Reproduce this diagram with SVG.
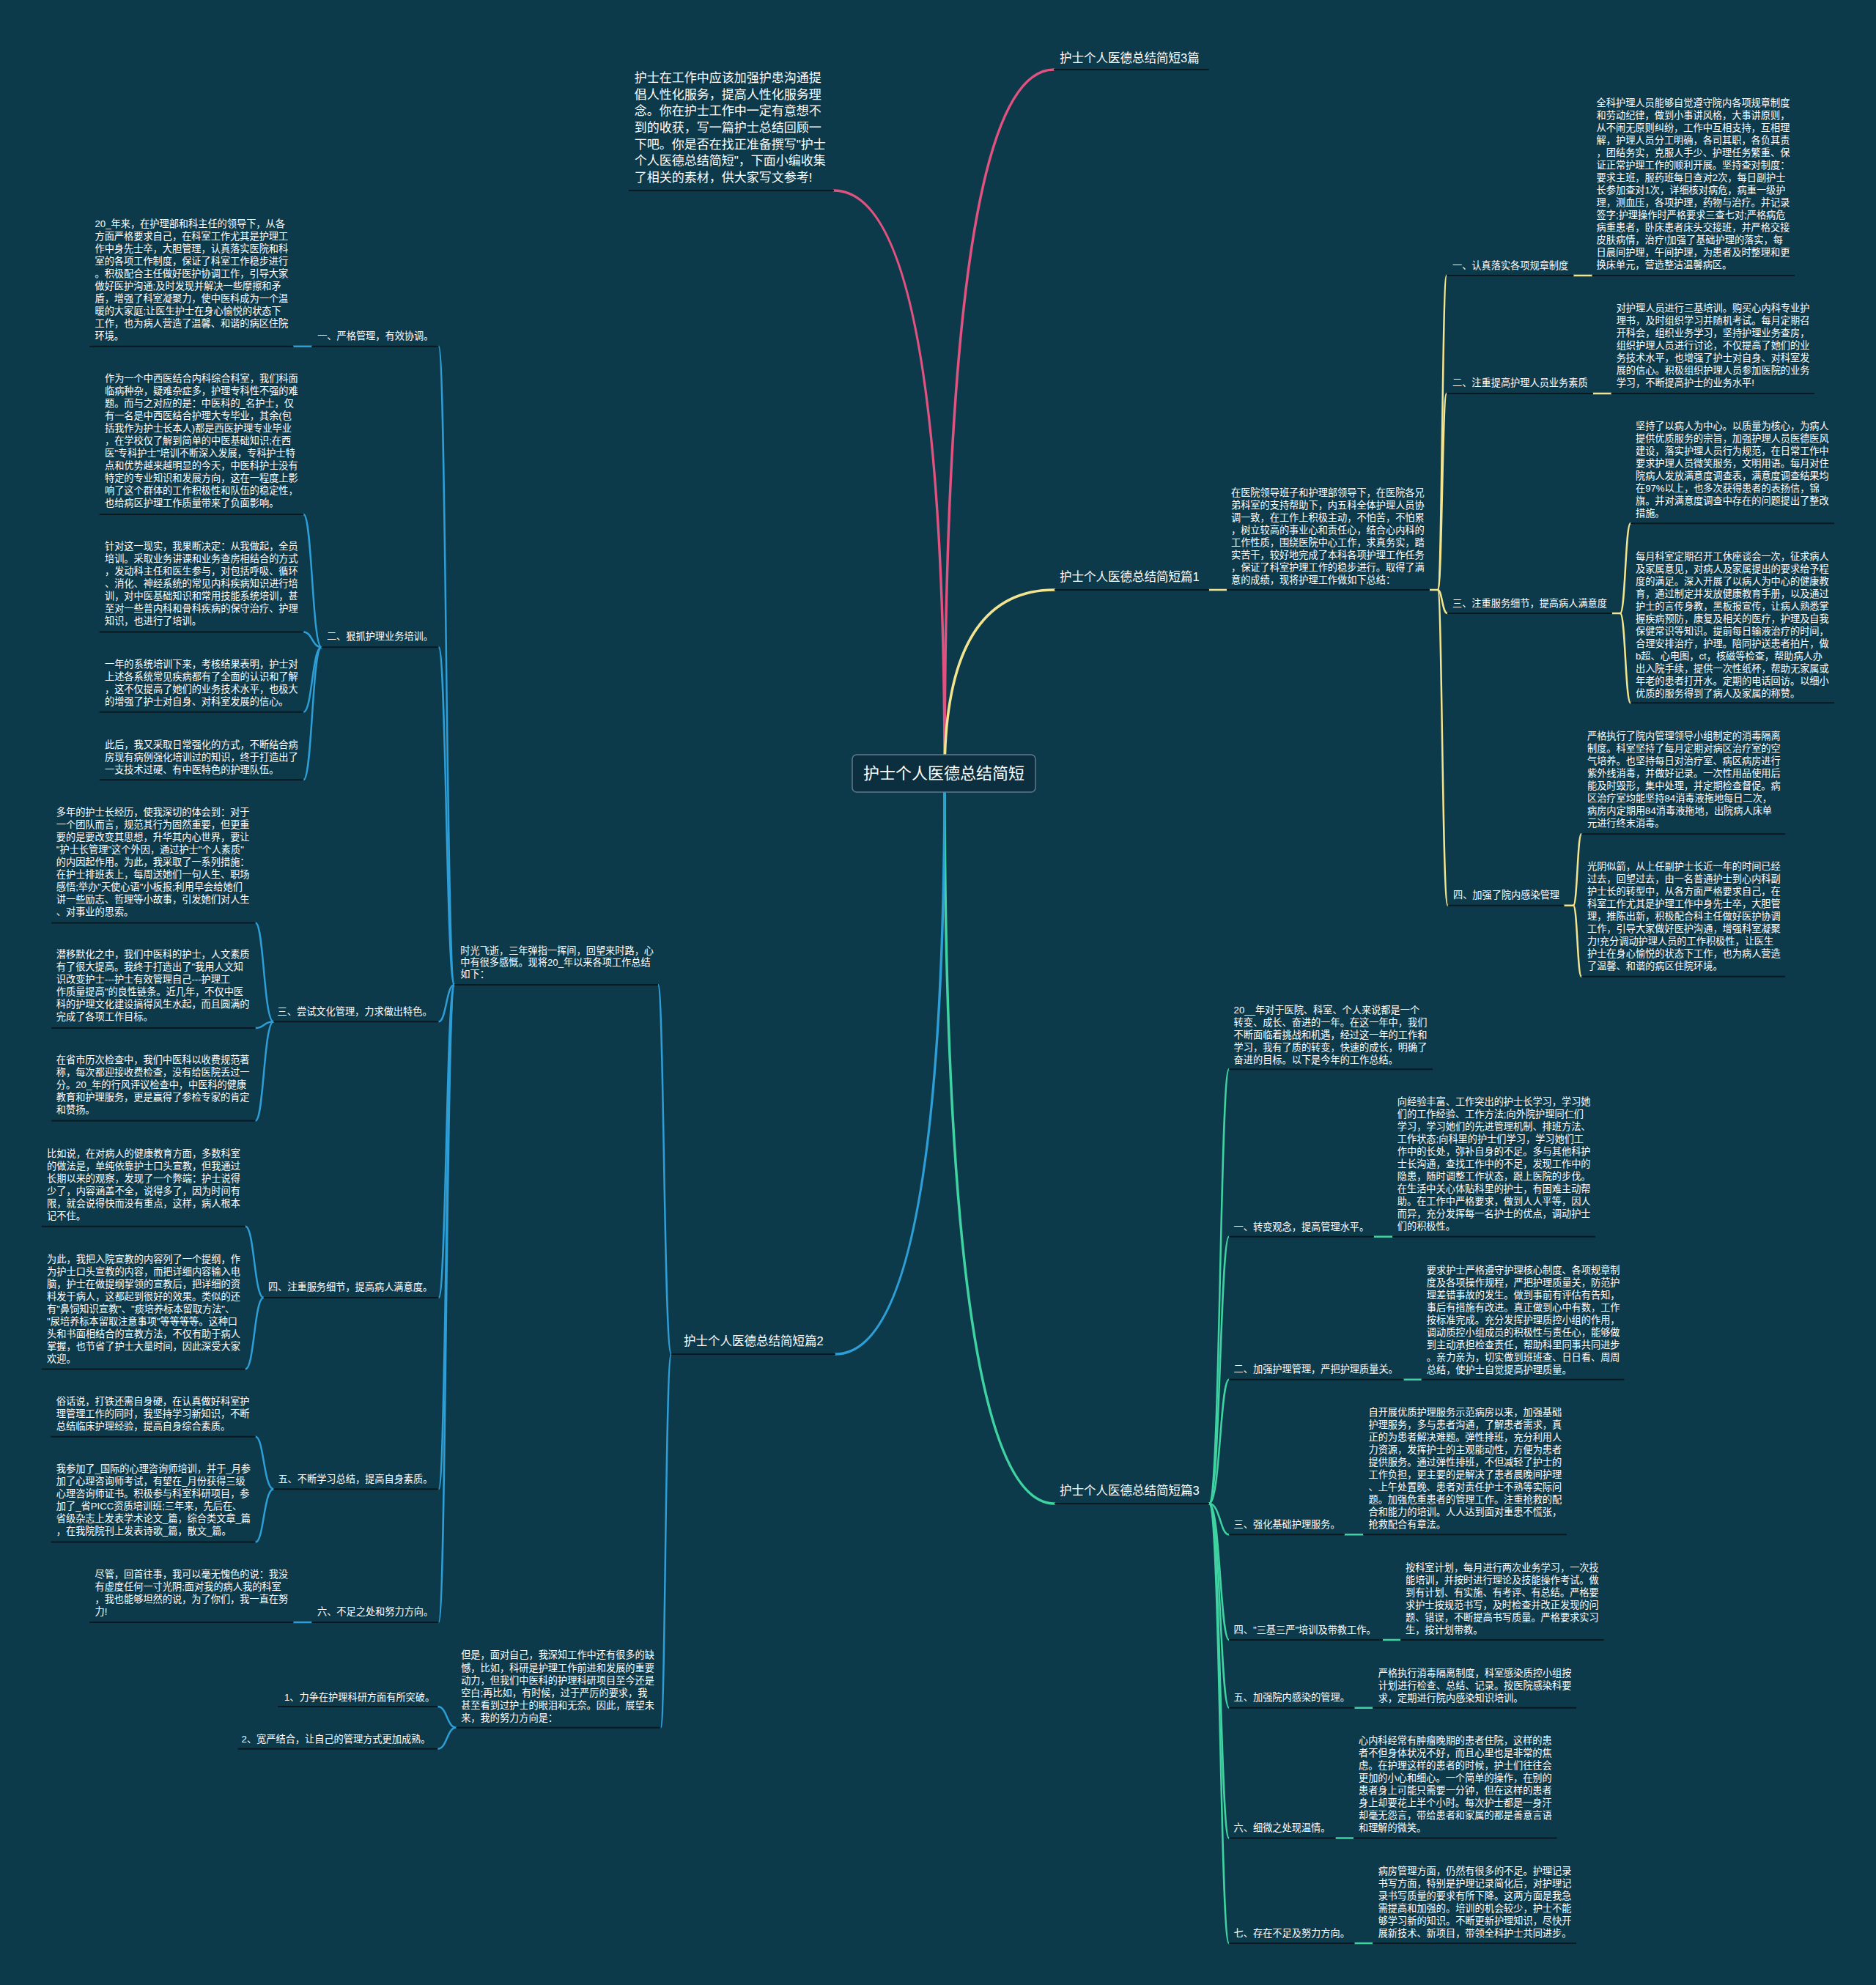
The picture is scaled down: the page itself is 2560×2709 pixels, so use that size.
<svg xmlns="http://www.w3.org/2000/svg" width="2560" height="2709" viewBox="0 0 2560 2709">
<style>
.t{font-family:"Liberation Sans","Noto Sans CJK SC",sans-serif;font-size:13.2px;fill:#ffffff}
.mt{font-family:"Liberation Sans","Noto Sans CJK SC",sans-serif;font-size:16.5px;fill:#ffffff}
.it{font-family:"Liberation Sans","Noto Sans CJK SC",sans-serif;font-size:17px;fill:#ffffff}
.ct{font-family:"Liberation Sans","Noto Sans CJK SC",sans-serif;font-size:22px;fill:#ffffff}
.u{stroke:#0a1820;stroke-width:2;fill:none}
.c{fill:none;stroke-width:2.5;stroke-linecap:round}
.m{fill:none;stroke-width:3.5;stroke-linecap:round}
.p{stroke:#e0527f}.y{stroke:#f3e48f}.g{stroke:#3fd3a2}.b{stroke:#2d9ed6}
</style>
<rect x="0" y="0" width="2560" height="2709" fill="#0d3a4b"/>

<g id="connectors">
<path class="m p" d="M1289 1056 Q1289 260 1138 260"/>
<path class="m p" d="M1289 1056 Q1289 95 1438 95"/>
<path class="m y" d="M1289 1056 Q1289 805 1439 805"/>
<path class="m g" d="M1289 1056 Q1289 2052 1439 2052"/>
<path class="m b" d="M1289 1056 Q1289 1848 1140 1848"/>
<!-- yellow -->
<path class="c y" d="M1650 805 L1674 805 M1951 805 L1962 805"/>
<path class="c y" d="M1962 805 C1968 805 1968 376 1974 376"/>
<path class="c y" d="M1962 805 C1968 805 1968 537 1974 537"/>
<path class="c y" d="M1962 805 C1968 805 1968 837 1975 837"/>
<path class="c y" d="M1962 805 C1968 805 1968 1235.7 1975.7 1235.7"/>
<path class="c y" d="M2147.5 376 L2172.5 376 M2174 537 L2198.6 537 M2200 837 L2211 837 M2134.6 1235.7 L2147 1235.7"/>
<path class="c y" d="M2211 837 C2218 837 2218 714.3 2225 714.3"/>
<path class="c y" d="M2211 837 C2218 837 2218 959.3 2225 959.3"/>
<path class="c y" d="M2147 1235.7 C2152.5 1235.7 2152.5 1138.3 2158 1138.3"/>
<path class="c y" d="M2147 1235.7 C2152.5 1235.7 2152.5 1332.7 2158 1332.7"/>
<!-- green -->
<path class="c g" d="M1650 2052 C1665 2052 1665 1459.3 1677 1459.3"/>
<path class="c g" d="M1650 2052 C1665 2052 1665 1687.7 1677 1687.7"/>
<path class="c g" d="M1650 2052 C1665 2052 1665 1882.7 1677 1882.7"/>
<path class="c g" d="M1650 2052 C1665 2052 1665 2094.3 1677 2094.3"/>
<path class="c g" d="M1650 2052 C1665 2052 1665 2237.9 1677 2237.9"/>
<path class="c g" d="M1650 2052 C1665 2052 1665 2330.7 1677 2330.7"/>
<path class="c g" d="M1650 2052 C1665 2052 1665 2508.6 1677 2508.6"/>
<path class="c g" d="M1650 2052 C1665 2052 1665 2652 1677 2652"/>
<path class="c g" d="M1875 1687.7 L1900 1687.7 M1915.7 1882.7 L1939.6 1882.7 M1835 2094.3 L1860 2094.3 M1887 2237.9 L1911 2237.9 M1848.6 2330.7 L1873 2330.7 M1822.9 2508.6 L1846.8 2508.6 M1848.6 2652 L1873 2652"/>
<!-- blue -->
<path class="c b" d="M916 1848 C906 1848 906 1344 898 1344"/>
<path class="c b" d="M916 1848 C908 1848 908 2357.7 901.7 2357.7"/>
<path class="c b" d="M620 1344 C609 1344 609 472.8 598.6 472.8"/>
<path class="c b" d="M620 1344 C609 1344 609 883.2 598.6 883.2"/>
<path class="c b" d="M620 1344 C609 1344 609 1394.3 598.6 1394.3"/>
<path class="c b" d="M620 1344 C609 1344 609 1771 598.6 1771"/>
<path class="c b" d="M620 1344 C609 1344 609 2032.2 598.6 2032.2"/>
<path class="c b" d="M620 1344 C609 1344 609 2213.9 598.6 2213.9"/>
<path class="c b" d="M400.5 472.8 L425.2 472.8 M400.5 2213.9 L425.2 2213.9"/>
<path class="c b" d="M438.6 883.2 C426 883.2 426 702 414.3 702"/>
<path class="c b" d="M438.6 883.2 C426 883.2 426 862.5 414.3 862.5"/>
<path class="c b" d="M438.6 883.2 C426 883.2 426 971.7 414.3 971.7"/>
<path class="c b" d="M438.6 883.2 C426 883.2 426 1064.3 414.3 1064.3"/>
<path class="c b" d="M373.2 1394.3 C360 1394.3 360 1259.6 348.8 1259.6"/>
<path class="c b" d="M373.2 1394.3 C360 1394.3 360 1403.1 348.8 1403.1"/>
<path class="c b" d="M373.2 1394.3 C360 1394.3 360 1529.4 348.8 1529.4"/>
<path class="c b" d="M359.7 1771 C347 1771 347 1673.8 335 1673.8"/>
<path class="c b" d="M359.7 1771 C347 1771 347 1868.4 335 1868.4"/>
<path class="c b" d="M373.2 2032.2 C360 2032.2 360 1960.8 348.8 1960.8"/>
<path class="c b" d="M373.2 2032.2 C360 2032.2 360 2104.6 348.8 2104.6"/>
<path class="c b" d="M622.3 2357.7 C610 2357.7 610 2329 597.5 2329"/>
<path class="c b" d="M622.3 2357.7 C610 2357.7 610 2386.7 597.5 2386.7"/>
</g>

<g id="center">
<rect x="1163" y="1030" width="250" height="51" rx="6" fill="#0b2f3e" stroke="#5f7b8a" stroke-width="1.5"/>
<text class="ct" x="1288" y="1063" text-anchor="middle">护士个人医德总结简短</text>
</g>

<g id="intro">
<text class="it" x="865.7" y="112"><tspan x="865.7">护士在工作中应该加强护患沟通提</tspan><tspan x="865.7" dy="22.67">倡人性化服务，提高人性化服务理</tspan><tspan x="865.7" dy="22.67">念。你在护士工作中一定有意想不</tspan><tspan x="865.7" dy="22.67">到的收获，写一篇护士总结回顾一</tspan><tspan x="865.7" dy="22.67">下吧。你是否在找正准备撰写"护士</tspan><tspan x="865.7" dy="22.67">个人医德总结简短"，下面小编收集</tspan><tspan x="865.7" dy="22.67">了相关的素材，供大家写文参考!</tspan></text>
<line class="u" x1="858" y1="260" x2="1138" y2="260"/>
</g>

<g id="branch-3pian">
<text class="mt" x="1446" y="85">护士个人医德总结简短3篇</text>
<line class="u" x1="1438" y1="95" x2="1650" y2="95"/>
</g>

<g id="branch-pian1">
<text class="mt" x="1446" y="793">护士个人医德总结简短篇1</text>
<line class="u" x1="1439" y1="805" x2="1650" y2="805"/>
</g>
<g id="p1-intro">
<text class="t" x="1680" y="676.7"><tspan x="1680">在医院领导班子和护理部领导下，在医院各兄</tspan><tspan x="1680" dy="17">弟科室的支持帮助下，内五科全体护理人员协</tspan><tspan x="1680" dy="17">调一致，在工作上积极主动，不怕苦，不怕累</tspan><tspan x="1680" dy="17">，树立较高的事业心和责任心，结合心内科的</tspan><tspan x="1680" dy="17">工作性质，围绕医院中心工作，求真务实，踏</tspan><tspan x="1680" dy="17">实苦干，较好地完成了本科各项护理工作任务</tspan><tspan x="1680" dy="17">，保证了科室护理工作的稳步进行。取得了满</tspan><tspan x="1680" dy="17">意的成绩，现将护理工作做如下总结：</tspan></text>
<line class="u" x1="1674" y1="805" x2="1951" y2="805"/>
</g>
<g id="p1-1">
<text class="t" x="1982" y="366.7">一、认真落实各项规章制度</text>
<line class="u" x1="1974" y1="376" x2="2147.5" y2="376"/>
</g>
<g id="p1-1a">
<text class="t" x="2178.6" y="145.3"><tspan x="2178.6">全科护理人员能够自觉遵守院内各项规章制度</tspan><tspan x="2178.6" dy="17">和劳动纪律，做到小事讲风格，大事讲原则，</tspan><tspan x="2178.6" dy="17">从不闹无原则纠纷，工作中互相支持，互相理</tspan><tspan x="2178.6" dy="17">解，护理人员分工明确，各司其职，各负其责</tspan><tspan x="2178.6" dy="17">，团结务实，克服人手少、护理任务繁重、保</tspan><tspan x="2178.6" dy="17">证正常护理工作的顺利开展。坚持查对制度：</tspan><tspan x="2178.6" dy="17">要求主班，服药班每日查对2次，每日副护士</tspan><tspan x="2178.6" dy="17">长参加查对1次，详细核对病危，病重一级护</tspan><tspan x="2178.6" dy="17">理，测血压，各项护理，药物与治疗。并记录</tspan><tspan x="2178.6" dy="17">签字;护理操作时严格要求三查七对;严格病危</tspan><tspan x="2178.6" dy="17">病重患者，卧床患者床头交接班，并严格交接</tspan><tspan x="2178.6" dy="17">皮肤病情，治疗!加强了基础护理的落实，每</tspan><tspan x="2178.6" dy="17">日晨间护理，午间护理，为患者及时整理和更</tspan><tspan x="2178.6" dy="17">换床单元，营造整洁温馨病区。</tspan></text>
<line class="u" x1="2172.5" y1="376" x2="2449" y2="376"/>
</g>
<g id="p1-2">
<text class="t" x="1982" y="527">二、注重提高护理人员业务素质</text>
<line class="u" x1="1974" y1="537" x2="2174" y2="537"/>
</g>
<g id="p1-2a">
<text class="t" x="2205.7" y="424.7"><tspan x="2205.7">对护理人员进行三基培训。购买心内科专业护</tspan><tspan x="2205.7" dy="17">理书，及时组织学习并随机考试。每月定期召</tspan><tspan x="2205.7" dy="17">开科会，组织业务学习，坚持护理业务查房，</tspan><tspan x="2205.7" dy="17">组织护理人员进行讨论，不仅提高了她们的业</tspan><tspan x="2205.7" dy="17">务技术水平，也增强了护士对自身、对科室发</tspan><tspan x="2205.7" dy="17">展的信心。积极组织护理人员参加医院的业务</tspan><tspan x="2205.7" dy="17">学习，不断提高护士的业务水平!</tspan></text>
<line class="u" x1="2198.6" y1="537" x2="2476" y2="537"/>
</g>
<g id="p1-3">
<text class="t" x="1982" y="828">三、注重服务细节，提高病人满意度</text>
<line class="u" x1="1975" y1="837" x2="2200" y2="837"/>
</g>
<g id="p1-3a">
<text class="t" x="2232" y="586"><tspan x="2232">坚持了以病人为中心。以质量为核心，为病人</tspan><tspan x="2232" dy="17">提供优质服务的宗旨，加强护理人员医德医风</tspan><tspan x="2232" dy="17">建设，落实护理人员行为规范，在日常工作中</tspan><tspan x="2232" dy="17">要求护理人员微笑服务，文明用语。每月对住</tspan><tspan x="2232" dy="17">院病人发放满意度调查表，满意度调查结果均</tspan><tspan x="2232" dy="17">在97%以上，也多次获得患者的表扬信，锦</tspan><tspan x="2232" dy="17">旗。并对满意度调查中存在的问题提出了整改</tspan><tspan x="2232" dy="17">措施。</tspan></text>
<line class="u" x1="2225" y1="714.3" x2="2503" y2="714.3"/>
</g>
<g id="p1-3b">
<text class="t" x="2232" y="764"><tspan x="2232">每月科室定期召开工休座谈会一次，征求病人</tspan><tspan x="2232" dy="17">及家属意见，对病人及家属提出的要求给予程</tspan><tspan x="2232" dy="17">度的满足。深入开展了以病人为中心的健康教</tspan><tspan x="2232" dy="17">育，通过制定并发放健康教育手册，以及通过</tspan><tspan x="2232" dy="17">护士的言传身教，黑板报宣传，让病人熟悉掌</tspan><tspan x="2232" dy="17">握疾病预防，康复及相关的医疗，护理及自我</tspan><tspan x="2232" dy="17">保健常识等知识。提前每日输液治疗的时间，</tspan><tspan x="2232" dy="17">合理安排治疗，护理。陪同护送患者拍片，做</tspan><tspan x="2232" dy="17">b超、心电图，ct，核磁等检查，帮助病人办</tspan><tspan x="2232" dy="17">出入院手续，提供一次性纸杯，帮助无家属或</tspan><tspan x="2232" dy="17">年老的患者打开水。定期的电话回访。以细小</tspan><tspan x="2232" dy="17">优质的服务得到了病人及家属的称赞。</tspan></text>
<line class="u" x1="2225" y1="959.3" x2="2503" y2="959.3"/>
</g>
<g id="p1-4">
<text class="t" x="1983" y="1226">四、加强了院内感染管理</text>
<line class="u" x1="1975.7" y1="1235.7" x2="2134.6" y2="1235.7"/>
</g>
<g id="p1-4a">
<text class="t" x="2166" y="1009.3"><tspan x="2166">严格执行了院内管理领导小组制定的消毒隔离</tspan><tspan x="2166" dy="17">制度。科室坚持了每月定期对病区治疗室的空</tspan><tspan x="2166" dy="17">气培养。也坚持每日对治疗室、病区病房进行</tspan><tspan x="2166" dy="17">紫外线消毒，并做好记录。一次性用品使用后</tspan><tspan x="2166" dy="17">能及时毁形，集中处理，并定期检查督促。病</tspan><tspan x="2166" dy="17">区治疗室均能坚持84消毒液拖地每日二次，</tspan><tspan x="2166" dy="17">病房内定期用84消毒液拖地，出院病人床单</tspan><tspan x="2166" dy="17">元进行终末消毒。</tspan></text>
<line class="u" x1="2158" y1="1138.3" x2="2436" y2="1138.3"/>
</g>
<g id="p1-4b">
<text class="t" x="2166" y="1187.3"><tspan x="2166">光阴似箭，从上任副护士长近一年的时间已经</tspan><tspan x="2166" dy="17">过去，回望过去，由一名普通护士到心内科副</tspan><tspan x="2166" dy="17">护士长的转型中，从各方面严格要求自己，在</tspan><tspan x="2166" dy="17">科室工作尤其是护理工作中身先士卒，大胆管</tspan><tspan x="2166" dy="17">理，推陈出新，积极配合科主任做好医护协调</tspan><tspan x="2166" dy="17">工作，引导大家做好医护沟通，增强科室凝聚</tspan><tspan x="2166" dy="17">力!充分调动护理人员的工作积极性，让医生</tspan><tspan x="2166" dy="17">护士在身心愉悦的状态下工作，也为病人营造</tspan><tspan x="2166" dy="17">了温馨、和谐的病区住院环境。</tspan></text>
<line class="u" x1="2158" y1="1332.7" x2="2436" y2="1332.7"/>
</g>

<g id="branch-pian3">
<text class="mt" x="1446" y="2040">护士个人医德总结简短篇3</text>
<line class="u" x1="1439" y1="2052" x2="1650" y2="2052"/>
</g>
<g id="p3-intro">
<text class="t" x="1683.6" y="1382.7"><tspan x="1683.6">20__年对于医院、科室、个人来说都是一个</tspan><tspan x="1683.6" dy="17">转变、成长、奋进的一年。在这一年中，我们</tspan><tspan x="1683.6" dy="17">不断面临着挑战和机遇，经过这一年的工作和</tspan><tspan x="1683.6" dy="17">学习，我有了质的转变，快速的成长，明确了</tspan><tspan x="1683.6" dy="17">奋进的目标。以下是今年的工作总结。</tspan></text>
<line class="u" x1="1677" y1="1459.3" x2="1955" y2="1459.3"/>
</g>
<g id="p3-1">
<text class="t" x="1683.6" y="1679">一、转变观念，提高管理水平。</text>
<line class="u" x1="1677" y1="1687.7" x2="1875" y2="1687.7"/>
</g>
<g id="p3-1a">
<text class="t" x="1906.8" y="1508.3"><tspan x="1906.8">向经验丰富、工作突出的护士长学习，学习她</tspan><tspan x="1906.8" dy="17">们的工作经验、工作方法;向外院护理同仁们</tspan><tspan x="1906.8" dy="17">学习，学习她们的先进管理机制、排班方法、</tspan><tspan x="1906.8" dy="17">工作状态;向科里的护士们学习，学习她们工</tspan><tspan x="1906.8" dy="17">作中的长处，弥补自身的不足。多与其他科护</tspan><tspan x="1906.8" dy="17">士长沟通，查找工作中的不足，发现工作中的</tspan><tspan x="1906.8" dy="17">隐患，随时调整工作状态，跟上医院的步伐。</tspan><tspan x="1906.8" dy="17">在生活中关心体贴科里的护士，有困难主动帮</tspan><tspan x="1906.8" dy="17">助。在工作中严格要求，做到人人平等，因人</tspan><tspan x="1906.8" dy="17">而异，充分发挥每一名护士的优点，调动护士</tspan><tspan x="1906.8" dy="17">们的积极性。</tspan></text>
<line class="u" x1="1900" y1="1687.7" x2="2177" y2="1687.7"/>
</g>
<g id="p3-2">
<text class="t" x="1683.6" y="1873.3">二、加强护理管理，严把护理质量关。</text>
<line class="u" x1="1677" y1="1882.7" x2="1915.7" y2="1882.7"/>
</g>
<g id="p3-2a">
<text class="t" x="1946.8" y="1737.7"><tspan x="1946.8">要求护士严格遵守护理核心制度、各项规章制</tspan><tspan x="1946.8" dy="17">度及各项操作规程，严把护理质量关，防范护</tspan><tspan x="1946.8" dy="17">理差错事故的发生。做到事前有评估有告知，</tspan><tspan x="1946.8" dy="17">事后有措施有改进。真正做到心中有数，工作</tspan><tspan x="1946.8" dy="17">按标准完成。充分发挥护理质控小组的作用，</tspan><tspan x="1946.8" dy="17">调动质控小组成员的积极性与责任心，能够做</tspan><tspan x="1946.8" dy="17">到主动承担检查责任，帮助科里同事共同进步</tspan><tspan x="1946.8" dy="17">。亲力亲为，切实做到班班查、日日看、周周</tspan><tspan x="1946.8" dy="17">总结，使护士自觉提高护理质量。</tspan></text>
<line class="u" x1="1939.6" y1="1882.7" x2="2216.4" y2="1882.7"/>
</g>
<g id="p3-3">
<text class="t" x="1683.6" y="2085">三、强化基础护理服务。</text>
<line class="u" x1="1677" y1="2094.3" x2="1835" y2="2094.3"/>
</g>
<g id="p3-3a">
<text class="t" x="1867.5" y="1932.3"><tspan x="1867.5">自开展优质护理服务示范病房以来，加强基础</tspan><tspan x="1867.5" dy="17">护理服务，多与患者沟通，了解患者需求，真</tspan><tspan x="1867.5" dy="17">正的为患者解决难题。弹性排班，充分利用人</tspan><tspan x="1867.5" dy="17">力资源，发挥护士的主观能动性，方便为患者</tspan><tspan x="1867.5" dy="17">提供服务。通过弹性排班，不但减轻了护士的</tspan><tspan x="1867.5" dy="17">工作负担，更主要的是解决了患者晨晚间护理</tspan><tspan x="1867.5" dy="17">、上午处置晚、患者对责任护士不熟等实际问</tspan><tspan x="1867.5" dy="17">题。加强危重患者的管理工作。注重抢救的配</tspan><tspan x="1867.5" dy="17">合和能力的培训。人人达到面对重患不慌张，</tspan><tspan x="1867.5" dy="17">抢救配合有章法。</tspan></text>
<line class="u" x1="1860" y1="2094.3" x2="2138" y2="2094.3"/>
</g>
<g id="p3-4">
<text class="t" x="1683.6" y="2229.3">四、"三基三严"培训及带教工作。</text>
<line class="u" x1="1677" y1="2237.9" x2="1887" y2="2237.9"/>
</g>
<g id="p3-4a">
<text class="t" x="1918" y="2144.3"><tspan x="1918">按科室计划，每月进行两次业务学习，一次技</tspan><tspan x="1918" dy="17">能培训，并按时进行理论及技能操作考试。做</tspan><tspan x="1918" dy="17">到有计划、有实施、有考评、有总结。严格要</tspan><tspan x="1918" dy="17">求护士按规范书写，及时检查并改正发现的问</tspan><tspan x="1918" dy="17">题、错误，不断提高书写质量。严格要求实习</tspan><tspan x="1918" dy="17">生，按计划带教。</tspan></text>
<line class="u" x1="1911" y1="2237.9" x2="2188.6" y2="2237.9"/>
</g>
<g id="p3-5">
<text class="t" x="1683.6" y="2321.4">五、加强院内感染的管理。</text>
<line class="u" x1="1677" y1="2330.7" x2="1848.6" y2="2330.7"/>
</g>
<g id="p3-5a">
<text class="t" x="1880.7" y="2287.5"><tspan x="1880.7">严格执行消毒隔离制度，科室感染质控小组按</tspan><tspan x="1880.7" dy="17">计划进行检查、总结、记录。按医院感染科要</tspan><tspan x="1880.7" dy="17">求，定期进行院内感染知识培训。</tspan></text>
<line class="u" x1="1873" y1="2330.7" x2="2151" y2="2330.7"/>
</g>
<g id="p3-6">
<text class="t" x="1683.6" y="2499.3">六、细微之处现温情。</text>
<line class="u" x1="1677" y1="2508.6" x2="1822.9" y2="2508.6"/>
</g>
<g id="p3-6a">
<text class="t" x="1854" y="2379.6"><tspan x="1854">心内科经常有肿瘤晚期的患者住院，这样的患</tspan><tspan x="1854" dy="17">者不但身体状况不好，而且心里也是非常的焦</tspan><tspan x="1854" dy="17">虑。在护理这样的患者的时候，护士们往往会</tspan><tspan x="1854" dy="17">更加的小心和细心。一个简单的操作，在别的</tspan><tspan x="1854" dy="17">患者身上可能只需要一分钟，但在这样的患者</tspan><tspan x="1854" dy="17">身上却要花上半个小时。每次护士都是一身汗</tspan><tspan x="1854" dy="17">却毫无怨言，带给患者和家属的都是善意言语</tspan><tspan x="1854" dy="17">和理解的微笑。</tspan></text>
<line class="u" x1="1846.8" y1="2508.6" x2="2124.6" y2="2508.6"/>
</g>
<g id="p3-7">
<text class="t" x="1683.6" y="2642.9">七、存在不足及努力方向。</text>
<line class="u" x1="1677" y1="2652" x2="1848.6" y2="2652"/>
</g>
<g id="p3-7a">
<text class="t" x="1880.7" y="2557.9"><tspan x="1880.7">病房管理方面，仍然有很多的不足。护理记录</tspan><tspan x="1880.7" dy="17">书写方面，特别是护理记录简化后，对护理记</tspan><tspan x="1880.7" dy="17">录书写质量的要求有所下降。这两方面是我急</tspan><tspan x="1880.7" dy="17">需提高和加强的。培训的机会较少，护士不能</tspan><tspan x="1880.7" dy="17">够学习新的知识。不断更新护理知识，尽快开</tspan><tspan x="1880.7" dy="17">展新技术、新项目，带领全科护士共同进步。</tspan></text>
<line class="u" x1="1873" y1="2652" x2="2151" y2="2652"/>
</g>

<g id="branch-pian2">
<text class="mt" x="933" y="1836">护士个人医德总结简短篇2</text>
<line class="u" x1="916" y1="1848" x2="1140" y2="1848"/>
</g>
<g id="p2-intro">
<text class="t" x="628.3" y="1301.7"><tspan x="628.3">时光飞逝，三年弹指一挥间，回望来时路，心</tspan><tspan x="628.3" dy="16.3">中有很多感慨。现将20_年以来各项工作总结</tspan><tspan x="628.3" dy="16.3">如下：</tspan></text>
<line class="u" x1="620" y1="1344" x2="898" y2="1344"/>
</g>
<g id="p2-1">
<text class="t" x="433.2" y="463.3">一、严格管理，有效协调。</text>
<line class="u" x1="425.2" y1="472.8" x2="598.6" y2="472.8"/>
</g>
<g id="p2-1a">
<text class="t" x="129.5" y="309.9"><tspan x="129.5">20_年来，在护理部和科主任的领导下，从各</tspan><tspan x="129.5" dy="17">方面严格要求自己，在科室工作尤其是护理工</tspan><tspan x="129.5" dy="17">作中身先士卒，大胆管理，认真落实医院和科</tspan><tspan x="129.5" dy="17">室的各项工作制度，保证了科室工作稳步进行</tspan><tspan x="129.5" dy="17">。积极配合主任做好医护协调工作，引导大家</tspan><tspan x="129.5" dy="17">做好医护沟通;及时发现并解决一些摩擦和矛</tspan><tspan x="129.5" dy="17">盾，增强了科室凝聚力，使中医科成为一个温</tspan><tspan x="129.5" dy="17">暖的大家庭;让医生护士在身心愉悦的状态下</tspan><tspan x="129.5" dy="17">工作，也为病人营造了温馨、和谐的病区住院</tspan><tspan x="129.5" dy="17">环境。</tspan></text>
<line class="u" x1="122.3" y1="472.8" x2="400.5" y2="472.8"/>
</g>
<g id="p2-2">
<text class="t" x="445.9" y="873">二、狠抓护理业务培训。</text>
<line class="u" x1="438.6" y1="883.2" x2="598.6" y2="883.2"/>
</g>
<g id="p2-2a">
<text class="t" x="143" y="521.3"><tspan x="143">作为一个中西医结合内科综合科室，我们科面</tspan><tspan x="143" dy="17">临病种杂，疑难杂症多，护理专科性不强的难</tspan><tspan x="143" dy="17">题。而与之对应的是：中医科的_名护士，仅</tspan><tspan x="143" dy="17">有一名是中西医结合护理大专毕业，其余(包</tspan><tspan x="143" dy="17">括我作为护士长本人)都是西医护理专业毕业</tspan><tspan x="143" dy="17">，在学校仅了解到简单的中医基础知识;在西</tspan><tspan x="143" dy="17">医"专科护士"培训不断深入发展，专科护士特</tspan><tspan x="143" dy="17">点和优势越来越明显的今天，中医科护士没有</tspan><tspan x="143" dy="17">特定的专业知识和发展方向，这在一程度上影</tspan><tspan x="143" dy="17">响了这个群体的工作积极性和队伍的稳定性，</tspan><tspan x="143" dy="17">也给病区护理工作质量带来了负面影响。</tspan></text>
<line class="u" x1="135.7" y1="702" x2="414.3" y2="702"/>
</g>
<g id="p2-2b">
<text class="t" x="143" y="750.2"><tspan x="143">针对这一现实，我果断决定：从我做起，全员</tspan><tspan x="143" dy="17">培训。采取业务讲课和业务查房相结合的方式</tspan><tspan x="143" dy="17">，发动科主任和医生参与，对包括呼吸、循环</tspan><tspan x="143" dy="17">、消化、神经系统的常见内科疾病知识进行培</tspan><tspan x="143" dy="17">训，对中医基础知识和常用技能系统培训，甚</tspan><tspan x="143" dy="17">至对一些普内科和骨科疾病的保守治疗、护理</tspan><tspan x="143" dy="17">知识，也进行了培训。</tspan></text>
<line class="u" x1="135.7" y1="862.5" x2="414.3" y2="862.5"/>
</g>
<g id="p2-2c">
<text class="t" x="143" y="911.1"><tspan x="143">一年的系统培训下来，考核结果表明，护士对</tspan><tspan x="143" dy="17">上述各系统常见疾病都有了全面的认识和了解</tspan><tspan x="143" dy="17">，这不仅提高了她们的业务技术水平，也极大</tspan><tspan x="143" dy="17">的增强了护士对自身、对科室发展的信心。</tspan></text>
<line class="u" x1="135.7" y1="971.7" x2="414.3" y2="971.7"/>
</g>
<g id="p2-2d">
<text class="t" x="143" y="1020.5"><tspan x="143">此后，我又采取日常强化的方式，不断结合病</tspan><tspan x="143" dy="17">房现有病例强化培训过的知识，终于打造出了</tspan><tspan x="143" dy="17">一支技术过硬、有中医特色的护理队伍。</tspan></text>
<line class="u" x1="135.7" y1="1064.3" x2="414.3" y2="1064.3"/>
</g>
<g id="p2-3">
<text class="t" x="378.6" y="1385">三、尝试文化管理，力求做出特色。</text>
<line class="u" x1="373.2" y1="1394.3" x2="598.6" y2="1394.3"/>
</g>
<g id="p2-3a">
<text class="t" x="76.8" y="1113.1"><tspan x="76.8">多年的护士长经历，使我深切的体会到：对于</tspan><tspan x="76.8" dy="17">一个团队而言，规范其行为固然重要，但更重</tspan><tspan x="76.8" dy="17">要的是要改变其思想，升华其内心世界，要让</tspan><tspan x="76.8" dy="17">"护士长管理"这个外因，通过护士"个人素质"</tspan><tspan x="76.8" dy="17">的内因起作用。为此，我采取了一系列措施：</tspan><tspan x="76.8" dy="17">在护士排班表上，每周送她们一句人生、职场</tspan><tspan x="76.8" dy="17">感悟;举办"天使心语"小板报;利用早会给她们</tspan><tspan x="76.8" dy="17">讲一些励志、哲理等小故事，引发她们对人生</tspan><tspan x="76.8" dy="17">、对事业的思索。</tspan></text>
<line class="u" x1="70.3" y1="1259.6" x2="348.8" y2="1259.6"/>
</g>
<g id="p2-3b">
<text class="t" x="76.8" y="1307.1"><tspan x="76.8">潜移默化之中，我们中医科的护士，人文素质</tspan><tspan x="76.8" dy="17">有了很大提高。我终于打造出了"我用人文知</tspan><tspan x="76.8" dy="17">识改变护士---护士有效管理自己---护理工</tspan><tspan x="76.8" dy="17">作质量提高"的良性链条。近几年，不仅中医</tspan><tspan x="76.8" dy="17">科的护理文化建设搞得风生水起，而且圆满的</tspan><tspan x="76.8" dy="17">完成了各项工作目标。</tspan></text>
<line class="u" x1="70.3" y1="1403.1" x2="348.8" y2="1403.1"/>
</g>
<g id="p2-3c">
<text class="t" x="76.8" y="1451.1"><tspan x="76.8">在省市历次检查中，我们中医科以收费规范著</tspan><tspan x="76.8" dy="17">称，每次都迎接收费检查，没有给医院丢过一</tspan><tspan x="76.8" dy="17">分。20_年的行风评议检查中，中医科的健康</tspan><tspan x="76.8" dy="17">教育和护理服务，更是赢得了参检专家的肯定</tspan><tspan x="76.8" dy="17">和赞扬。</tspan></text>
<line class="u" x1="70.3" y1="1529.4" x2="348.8" y2="1529.4"/>
</g>
<g id="p2-4">
<text class="t" x="365.9" y="1761.3">四、注重服务细节，提高病人满意度。</text>
<line class="u" x1="359.7" y1="1771" x2="598.6" y2="1771"/>
</g>
<g id="p2-4a">
<text class="t" x="64.1" y="1578.8"><tspan x="64.1">比如说，在对病人的健康教育方面，多数科室</tspan><tspan x="64.1" dy="17">的做法是，单纯依靠护士口头宣教，但我通过</tspan><tspan x="64.1" dy="17">长期以来的观察，发现了一个弊端：护士说得</tspan><tspan x="64.1" dy="17">少了，内容涵盖不全，说得多了，因为时间有</tspan><tspan x="64.1" dy="17">限，就会说得快而没有重点，这样，病人根本</tspan><tspan x="64.1" dy="17">记不住。</tspan></text>
<line class="u" x1="56.8" y1="1673.8" x2="335" y2="1673.8"/>
</g>
<g id="p2-4b">
<text class="t" x="64.1" y="1722.5"><tspan x="64.1">为此，我把入院宣教的内容列了一个提纲，作</tspan><tspan x="64.1" dy="17">为护士口头宣教的内容，而把详细内容输入电</tspan><tspan x="64.1" dy="17">脑，护士在做提纲挈领的宣教后，把详细的资</tspan><tspan x="64.1" dy="17">料发于病人，这都起到很好的效果。类似的还</tspan><tspan x="64.1" dy="17">有"鼻饲知识宣教"、"痰培养标本留取方法"、</tspan><tspan x="64.1" dy="17">"尿培养标本留取注意事项"等等等等。这种口</tspan><tspan x="64.1" dy="17">头和书面相结合的宣教方法，不仅有助于病人</tspan><tspan x="64.1" dy="17">掌握，也节省了护士大量时间，因此深受大家</tspan><tspan x="64.1" dy="17">欢迎。</tspan></text>
<line class="u" x1="56.8" y1="1868.4" x2="335" y2="1868.4"/>
</g>
<g id="p2-5">
<text class="t" x="379.4" y="2022.5">五、不断学习总结，提高自身素质。</text>
<line class="u" x1="373.2" y1="2032.2" x2="598.6" y2="2032.2"/>
</g>
<g id="p2-5a">
<text class="t" x="76.8" y="1916.7"><tspan x="76.8">俗话说，打铁还需自身硬，在认真做好科室护</tspan><tspan x="76.8" dy="17">理管理工作的同时，我坚持学习新知识，不断</tspan><tspan x="76.8" dy="17">总结临床护理经验，提高自身综合素质。</tspan></text>
<line class="u" x1="69.5" y1="1960.8" x2="348.8" y2="1960.8"/>
</g>
<g id="p2-5b">
<text class="t" x="76.8" y="2009.1"><tspan x="76.8">我参加了_国际的心理咨询师培训，并于_月参</tspan><tspan x="76.8" dy="17">加了心理咨询师考试，有望在_月份获得三级</tspan><tspan x="76.8" dy="17">心理咨询师证书。积极参与科室科研项目，参</tspan><tspan x="76.8" dy="17">加了_省PICC资质培训班;三年来，先后在、</tspan><tspan x="76.8" dy="17">省级杂志上发表学术论文_篇，综合类文章_篇</tspan><tspan x="76.8" dy="17">，在我院院刊上发表诗歌_篇，散文_篇。</tspan></text>
<line class="u" x1="69.5" y1="2104.6" x2="348.8" y2="2104.6"/>
</g>
<g id="p2-6">
<text class="t" x="433" y="2203.8">六、不足之处和努力方向。</text>
<line class="u" x1="425.2" y1="2213.9" x2="598.6" y2="2213.9"/>
</g>
<g id="p2-6a">
<text class="t" x="129.5" y="2153.3"><tspan x="129.5">尽管，回首往事，我可以毫无愧色的说：我没</tspan><tspan x="129.5" dy="17">有虚度任何一寸光阴;面对我的病人我的科室</tspan><tspan x="129.5" dy="17">，我也能够坦然的说，为了你们，我一直在努</tspan><tspan x="129.5" dy="17">力!</tspan></text>
<line class="u" x1="122.3" y1="2213.9" x2="400.5" y2="2213.9"/>
</g>
<g id="p2-end">
<text class="t" x="629.2" y="2263.3"><tspan x="629.2">但是，面对自己，我深知工作中还有很多的缺</tspan><tspan x="629.2" dy="17.2">憾，比如，科研是护理工作前进和发展的重要</tspan><tspan x="629.2" dy="17.2">动力，但我们中医科的护理科研项目至今还是</tspan><tspan x="629.2" dy="17.2">空白;再比如，有时候，过于严厉的要求，我</tspan><tspan x="629.2" dy="17.2">甚至看到过护士的眼泪和无奈。因此，展望未</tspan><tspan x="629.2" dy="17.2">来，我的努力方向是：</tspan></text>
<line class="u" x1="622.3" y1="2357.7" x2="901.7" y2="2357.7"/>
</g>
<g id="p2-end-1">
<text class="t" x="388" y="2320.7">1、力争在护理科研方面有所突破。</text>
<line class="u" x1="379.3" y1="2329" x2="597.5" y2="2329"/>
</g>
<g id="p2-end-2">
<text class="t" x="329.6" y="2377.7">2、宽严结合，让自己的管理方式更加成熟。</text>
<line class="u" x1="324.6" y1="2386.7" x2="597.5" y2="2386.7"/>
</g>
</svg>
